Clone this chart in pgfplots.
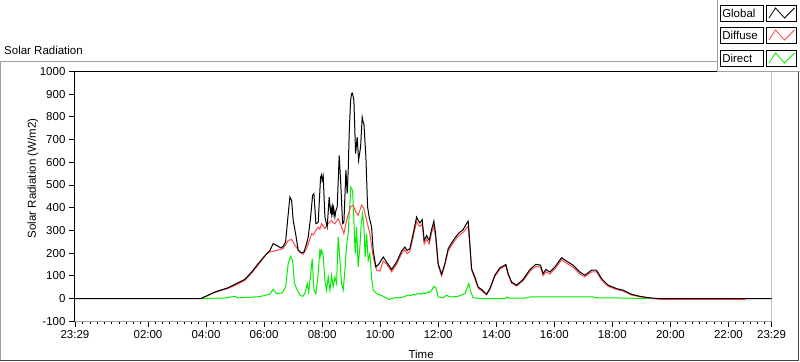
\documentclass[border=0pt]{standalone}
\usepackage{pgfplots}
\pgfplotsset{compat=1.18}
\usepackage{fontspec}
\setmainfont{Liberation Sans}
\definecolor{diffred}{RGB}{255,72,72}
\definecolor{dirgreen}{RGB}{0,238,0}
\definecolor{framegray}{RGB}{160,160,160}
\definecolor{framedark}{RGB}{70,70,70}
\newcommand{\lbl}{\fontsize{11.5}{13}\selectfont}
\begin{document}
\begin{tikzpicture}
\begin{scope}[x=1pt,y=1pt]
\useasboundingbox (0,0) rectangle (800,361);
\fill[white] (0,0) rectangle (800,361);
\draw[framegray, line width=1pt] (0.5,0.5) -- (0.5,299.5) -- (799.5,299.5);
\draw[framedark, line width=1pt] (0.5,0.5) -- (798.5,0.5) -- (798.5,299.5);
\node[anchor=west, inner sep=0pt, font=\lbl] at (4,311) {Solar Radiation};
\end{scope}
\begin{axis}[
  at={(75pt,40pt)}, anchor=south west, scale only axis,
  width=697pt, height=250pt,
  xmin=-0.5167, xmax=23.4833, ymin=-100, ymax=1000,
  axis lines*=left,
  x axis line style={framegray, line width=1pt},
  y axis line style={black, line width=1pt},
  xtick={-0.5167,2,4,6,8,10,12,14,16,18,20,22,23.4833},
  xticklabels={23:29,02:00,04:00,06:00,08:00,10:00,12:00,14:00,16:00,18:00,20:00,22:00,23:29},
  minor xtick={-0.25,0,...,23.25},
  ytick={-100,0,100,200,300,400,500,600,700,800,900,1000},
  yticklabels={-100,0,100,200,300,400,500,600,700,800,900,1000},
  tick align=outside,
  major tick length=6pt, minor tick length=3pt,
  tick style={black, line width=0.8pt},
  tick label style={font=\lbl},
  xlabel={Time}, ylabel={Solar Radiation (W/m2)},
  label style={font=\lbl},
  xlabel style={at={(axis description cs:0.497,0)}, anchor=center, yshift=-33pt},
  ylabel style={at={(axis description cs:-0.0603,0.572)}, anchor=center},
  clip=true,
]
\draw[black, line width=1.2pt] (rel axis cs:0,1) -- (rel axis cs:1,1);
\draw[framegray, line width=1pt] (rel axis cs:1,0) -- (rel axis cs:1,1);
% Direct
\addplot[dirgreen, line width=1pt] coordinates {
(3.824,0) (4.7,3) (4.995,10) (5.1,3) (5.8,8) (5.970,12) (6.2,20) (6.314,41) (6.431,22) (6.624,25) (6.741,51) (6.831,154) (6.914,186) (6.983,168) (7.04,70) (7.120,44) (7.234,15) (7.327,10) (7.406,22) (7.486,66) (7.534,29) (7.603,103) (7.658,176) (7.716,37) (7.785,22) (7.864,110) (7.923,220) (7.95,190) (7.981,212) (8.037,190) (8.095,80) (8.154,37) (8.209,95) (8.268,37) (8.326,103) (8.381,51) (8.440,95) (8.498,66) (8.553,271) (8.612,170) (8.670,66) (8.726,37) (8.784,125) (8.84,227) (8.863,256) (8.898,286) (8.932,374) (8.991,491) (9.049,476) (9.094,344) (9.139,198) (9.187,315) (9.242,139) (9.301,227) (9.346,330) (9.394,374) (9.439,315) (9.484,183) (9.532,286) (9.587,168) (9.645,198) (9.704,95) (9.759,37) (9.876,22) (10.103,10) (10.310,-4) (10.393,0) (10.507,4) (10.65,3) (10.792,7) (10.9,12) (10.965,15) (11.05,13) (11.137,19) (11.2,16) (11.309,22) (11.4,20) (11.481,25) (11.55,22) (11.653,29) (11.7,26) (11.771,37) (11.850,54) (11.919,48) (11.998,7) (12.170,4) (12.287,15) (12.401,7) (12.687,10) (12.917,22) (13.011,51) (13.055,66) (13.124,29) (13.204,4) (13.493,0) (14.3,0) (14.35,7) (14.45,2) (15.0,2) (15.19,8) (17.3,8) (17.5,3) (18.0,3) (19.5,0) (20.0,0)
};
% Diffuse
\addplot[diffred, line width=1pt] coordinates {
(3.824,0) (4.306,27) (4.764,45) (4.995,58) (5.339,80) (5.570,112) (5.798,148) (5.856,158) (6.087,198) (6.200,205) (6.431,212) (6.659,220) (6.831,256) (6.948,260) (7.062,234) (7.234,205) (7.348,195) (7.465,220) (7.637,286) (7.70,280) (7.751,293) (7.864,315) (7.92,305) (7.981,330) (8.095,308) (8.209,330) (8.326,344) (8.38,335) (8.440,330) (8.553,352) (8.670,315) (8.750,286) (8.843,344) (8.980,403) (9.070,411) (9.163,381) (9.242,367) (9.359,411) (9.439,396) (9.532,344) (9.645,286) (9.759,183) (9.876,125) (9.990,121) (10.103,165) (10.220,152) (10.393,118) (10.565,152) (10.737,198) (10.851,215) (10.930,198) (11.023,208) (11.137,272) (11.254,340) (11.309,325) (11.368,318) (11.447,330) (11.516,240) (11.599,262) (11.688,240) (11.771,290) (11.850,318) (11.909,272) (11.998,145) (12.115,100) (12.229,148) (12.343,210) (12.515,245) (12.687,275) (12.859,292) (12.976,310) (13.032,320) (13.090,230) (13.148,125) (13.262,88) (13.376,45) (13.493,35) (13.665,17) (13.779,40) (13.951,97) (14.124,130) (14.330,145) (14.410,104) (14.527,68) (14.699,55) (14.926,79) (15.157,120) (15.363,142) (15.525,138) (15.615,101) (15.708,118) (15.846,108) (16.018,130) (16.249,171) (16.421,156) (16.649,138) (16.879,108) (17.052,96) (17.282,117) (17.454,118) (17.627,81) (17.854,54) (18.143,40) (18.371,33) (18.660,16) (18.946,8) (19.290,2) (19.635,-3) (22.563,-3) (22.6,0)
};
% Global
\addplot[black, line width=1pt] coordinates {
(-0.5167,0) (3.824,0) (4.306,29) (4.764,48) (4.995,63) (5.339,85) (5.570,117) (5.798,154) (5.970,180) (6.200,212) (6.314,242) (6.431,234) (6.579,223) (6.659,230) (6.741,249) (6.810,344) (6.889,447) (6.948,432) (7.003,344) (7.096,278) (7.175,212) (7.292,201) (7.372,205) (7.465,242) (7.520,271) (7.603,359) (7.671,455) (7.716,462) (7.785,330) (7.864,335) (7.947,535) (7.98,545) (8.00,520) (8.037,540) (8.095,359) (8.174,315) (8.243,447) (8.291,374) (8.31,395) (8.33,370) (8.360,403) (8.38,375) (8.40,398) (8.440,359) (8.47,385) (8.519,403) (8.588,630) (8.636,520) (8.705,330) (8.750,335) (8.819,565) (8.863,462) (8.898,565) (8.932,726) (8.980,872) (9.010,900) (9.036,905) (9.06,895) (9.094,872) (9.153,638) (9.208,711) (9.256,609) (9.325,667) (9.380,799) (9.41,780) (9.439,770) (9.508,623) (9.566,403) (9.621,359) (9.704,315) (9.759,212) (9.852,139) (9.966,154) (10.103,183) (10.220,161) (10.393,128) (10.565,161) (10.737,209) (10.851,227) (10.930,212) (11.023,220) (11.137,286) (11.254,359) (11.309,344) (11.368,333) (11.447,348) (11.516,256) (11.599,278) (11.688,256) (11.771,304) (11.850,341) (11.909,286) (11.998,154) (12.115,107) (12.229,154) (12.343,220) (12.515,256) (12.687,286) (12.859,304) (12.976,330) (13.032,341) (13.090,242) (13.148,132) (13.262,95) (13.376,51) (13.493,40) (13.665,19) (13.779,44) (13.951,103) (14.124,135) (14.330,150) (14.410,110) (14.527,73) (14.699,59) (14.926,84) (15.157,128) (15.363,151) (15.525,147) (15.615,110) (15.708,128) (15.846,117) (16.018,139) (16.249,180) (16.421,165) (16.649,147) (16.879,117) (17.052,103) (17.282,125) (17.454,125) (17.627,88) (17.854,59) (18.143,44) (18.371,37) (18.660,19) (18.946,10) (19.290,3) (19.635,0) (23.4833,0)
};
\end{axis}
\begin{scope}[x=1pt,y=1pt]
% legend panel
\fill[white] (717,289) rectangle (800,361);
\draw[framegray, line width=1pt] (717.5,361) -- (717.5,289.5) -- (800,289.5);
\foreach \name/\col/\yt [count=\i] in {Global/black/356, Diffuse/diffred/334, Direct/dirgreen/311} {
  \draw[black, line width=0.8pt] (721,\yt-15.5) rectangle (763.5,\yt);
  \node[anchor=west, inner sep=0pt, font=\lbl] at (722.5,\yt-7.6) {\name};
  \draw[black, line width=0.8pt] (767,\yt-15.5) rectangle (797,\yt);
  \draw[\col, line width=0.8pt] (769.5,\yt-12.5) -- (776,\yt-2.5) -- (785,\yt-12.5) -- (795,\yt-2.5);
}
\end{scope}
\end{tikzpicture}
\end{document}
